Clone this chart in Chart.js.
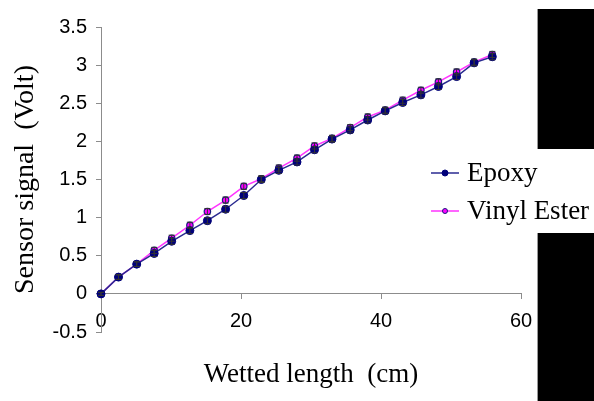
<!DOCTYPE html>
<html>
<head>
<meta charset="utf-8">
<script src="https://cdn.jsdelivr.net/npm/chart.js@4/dist/chart.umd.min.js"></script>
<style>
  body { margin: 0; background: #fff; }
  #wrap { position: relative; width: 594px; height: 401px; }
  .blk { position: absolute; background: #000; border-left: 1px solid #999; }
</style>
</head>
<body>
<div id="wrap">
  <canvas id="myChart" width="594" height="401"></canvas>
  <!-- the black blocks on the right edge of the picture -->
  <div class="blk" style="left:537px; top:9px; width:57px; height:140px;"></div>
  <div class="blk" style="left:537px; top:233px; width:57px; height:168px;"></div>
</div>
<script>
// dane
const wettedLength = [0, 2.5, 5.1, 7.6, 10.1, 12.7, 15.2, 17.8, 20.4, 22.9, 25.4, 28.0, 30.5, 33.0, 35.6, 38.1, 40.6, 43.1, 45.7, 48.2, 50.8, 53.3, 55.9];
const epoxy = [0, 0.22, 0.39, 0.53, 0.69, 0.83, 0.96, 1.11, 1.29, 1.50, 1.62, 1.73, 1.89, 2.03, 2.15, 2.28, 2.40, 2.51, 2.61, 2.72, 2.85, 3.03, 3.11];
const vinylEster = [0, 0.22, 0.39, 0.57, 0.73, 0.90, 1.08, 1.23, 1.41, 1.51, 1.65, 1.78, 1.94, 2.04, 2.18, 2.32, 2.41, 2.54, 2.67, 2.78, 2.91, 3.04, 3.14];
const epoxyErr = [0.02, 0.03, 0.03, 0.04, 0.04, 0.04, 0.04, 0.04, 0.04, 0.04, 0.04, 0.04, 0.04, 0.04, 0.04, 0.04, 0.04, 0.04, 0.04, 0.04, 0.04, 0.04, 0.04];
const vinylErr = [0.02, 0.03, 0.03, 0.04, 0.04, 0.04, 0.04, 0.04, 0.04, 0.04, 0.04, 0.04, 0.04, 0.04, 0.04, 0.04, 0.04, 0.04, 0.04, 0.04, 0.04, 0.04, 0.04];
const seriesNames = ['Epoxy', 'Vinyl Ester'];
const xTitle = 'Wetted length  (cm)';
const yTitle = 'Sensor signal  (Volt)';

const axisGrey = '#8c8c8c';
const serif = '"Liberation Serif", "Times New Roman", serif';

// error bars (rysowane przez skale wykresu)
const errorBars = {
  id: 'errorBars',
  afterDatasetsDraw(chart) {
    const ctx = chart.ctx;
    const xs = chart.scales.x, ys = chart.scales.y;
    const errs = [epoxyErr, vinylErr];
    ctx.save();
    ctx.strokeStyle = '#333';
    ctx.lineWidth = 1;
    chart.data.datasets.forEach((ds, i) => {
      ds.data.forEach((p, j) => {
        const px = xs.getPixelForValue(p.x);
        const top = ys.getPixelForValue(p.y + errs[i][j]);
        const bot = ys.getPixelForValue(p.y - errs[i][j]);
        ctx.beginPath();
        ctx.moveTo(px, top); ctx.lineTo(px, bot);
        ctx.moveTo(px - 3, top); ctx.lineTo(px + 3, top);
        ctx.moveTo(px - 3, bot); ctx.lineTo(px + 3, bot);
        ctx.stroke();
      });
    });
    ctx.restore();
  }
};

// axis titles + legend
const labelsPlugin = {
  id: 'labelsPlugin',
  afterDraw(chart) {
    const ctx = chart.ctx;
    const area = chart.chartArea;
    ctx.save();
    ctx.fillStyle = '#000';
    ctx.textBaseline = 'alphabetic';

    ctx.font = '27px ' + serif;
    ctx.textAlign = 'center';
    ctx.fillText(xTitle, (area.left + area.right) / 2, 382);

    ctx.save();
    ctx.translate(33, (area.top + area.bottom) / 2);
    ctx.rotate(-Math.PI / 2);
    ctx.font = '28px ' + serif;
    ctx.fillText(yTitle, 0, 0);
    ctx.restore();

    // legenda
    const rows = [173, 211];
    chart.data.datasets.forEach((ds, i) => {
      const y = rows[i];
      ctx.strokeStyle = ds.borderColor;
      ctx.lineWidth = 1.5;
      ctx.beginPath();
      ctx.moveTo(431, y); ctx.lineTo(459, y);
      ctx.stroke();
      ctx.beginPath();
      ctx.arc(445, y, i === 0 ? 3 : 2.5, 0, Math.PI * 2);
      ctx.fillStyle = ds.pointBackgroundColor;
      ctx.fill();
      ctx.strokeStyle = ds.pointBorderColor;
      ctx.lineWidth = 1;
      ctx.stroke();
      ctx.fillStyle = '#000';
      ctx.font = '27px ' + serif;
      ctx.textAlign = 'left';
      ctx.fillText(seriesNames[i], 467, y + 8);
    });
    ctx.restore();
  }
};

const tickFont = { family: '"Liberation Sans", Arial, sans-serif', size: 20 };

const ctx = document.getElementById('myChart').getContext('2d');
const myChart = new Chart(ctx, {
  type: 'line',
  data: {
    datasets: [{
      label: seriesNames[0],
      data: wettedLength.map((x, i) => ({ x: x, y: epoxy[i] })),
      borderColor: '#2a2a90',
      borderWidth: 1.5,
      pointRadius: 4,
      pointBackgroundColor: '#00007a',
      pointBorderColor: '#00007a',
      pointBorderWidth: 1,
      tension: 0,
      clip: false
    }, {
      label: seriesNames[1],
      data: wettedLength.map((x, i) => ({ x: x, y: vinylEster[i] })),
      borderColor: '#ff33ff',
      borderWidth: 1.5,
      pointRadius: 3.2,
      pointBackgroundColor: '#ff00ff',
      pointBorderColor: '#1a1a80',
      pointBorderWidth: 1.2,
      tension: 0,
      clip: false
    }]
  },
  options: {
    responsive: false,
    animation: false,
    layout: { padding: { top: 27, right: 73, bottom: 69, left: 0 } },
    plugins: { legend: { display: false }, tooltip: { enabled: false } },
    scales: {
      x: {
        type: 'linear',
        position: { y: 0 },
        min: 0, max: 60,
        ticks: { stepSize: 20, color: '#000', padding: 11, font: tickFont },
        grid: { drawOnChartArea: false, drawTicks: true, tickLength: 5, color: axisGrey },
        border: { color: axisGrey, width: 1 }
      },
      y: {
        type: 'linear',
        position: 'left',
        min: -0.5, max: 3.5,
        afterFit(scale) { scale.width = 101; },
        ticks: {
          stepSize: 0.5, color: '#000', padding: 9, font: tickFont,
          callback: value => String(value)   // 3 zamiast 3.0
        },
        grid: { drawOnChartArea: false, drawTicks: true, tickLength: 5, color: axisGrey },
        border: { color: axisGrey, width: 1 }
      }
    }
  },
  plugins: [errorBars, labelsPlugin]
});
</script>
</body>
</html>
